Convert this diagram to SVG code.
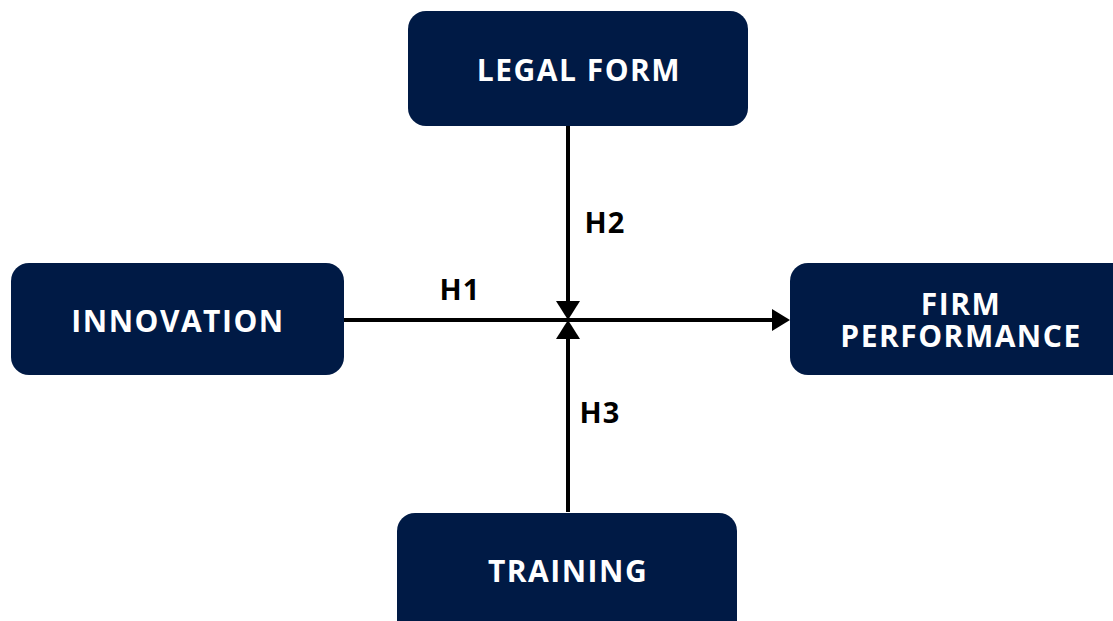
<svg xmlns="http://www.w3.org/2000/svg" width="1113" height="621" viewBox="0 0 1113 621">
<style>
.box{fill:#001a45}
.t{font-family:"Open Sans",sans-serif;font-weight:700;font-size:30px;letter-spacing:1.5px;fill:#ffffff;text-anchor:middle}
.h{font-family:"Open Sans",sans-serif;font-weight:700;font-size:29px;letter-spacing:1px;fill:#000000;text-anchor:middle}
.ln{stroke:#000;stroke-width:4;fill:none}
</style>
<rect width="1113" height="621" fill="#ffffff"/>
<g id="legal-form"><rect class="box" x="408" y="11" width="340" height="115" rx="18"/><text class="t" x="579" y="81">LEGAL FORM</text></g>
<g id="innovation"><rect class="box" x="11" y="263" width="333" height="112" rx="18"/><text class="t" x="178" y="332">INNOVATION</text></g>
<g id="firm-performance"><rect class="box" x="790" y="263" width="340" height="112" rx="18"/><text class="t" x="961" y="315">FIRM</text><text class="t" x="961" y="347">PERFORMANCE</text></g>
<g id="training"><rect class="box" x="397" y="513" width="340" height="130" rx="18"/><text class="t" x="568" y="582">TRAINING</text></g>
<g id="connectors">
<line class="ln" x1="344" y1="320" x2="774" y2="320"/>
<polygon points="772,309 790,320 772,331" fill="#000"/>
<line class="ln" x1="568" y1="126" x2="568" y2="303"/>
<polygon points="556,301 580,301 568,320" fill="#000"/>
<line class="ln" x1="568" y1="512" x2="568" y2="337"/>
<polygon points="556,339 580,339 568,320" fill="#000"/>
<text class="h" x="460" y="300">H1</text>
<text class="h" x="605" y="233">H2</text>
<text class="h" x="600" y="423">H3</text>
</g>
</svg>
